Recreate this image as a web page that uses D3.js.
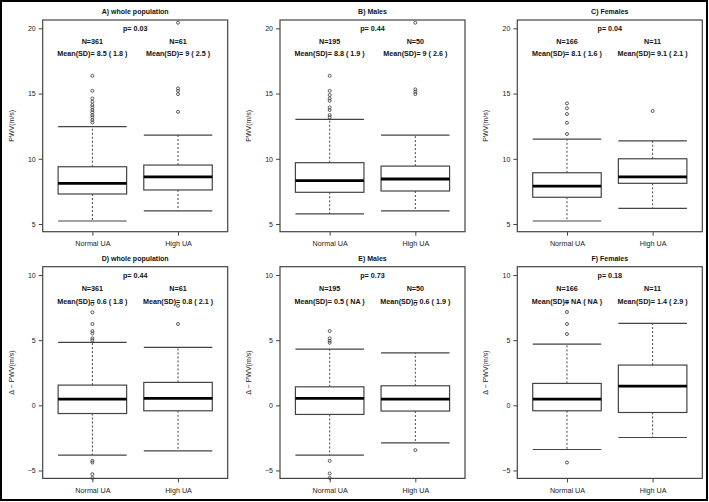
<!DOCTYPE html>
<html><head><meta charset="utf-8">
<script src="https://cdn.jsdelivr.net/npm/d3@7"></script>
<style>body{margin:0;background:#fff;} svg{display:block;font-family:"Liberation Sans",Arial,sans-serif;}</style>
</head><body>
<svg id="chart" width="709" height="502"></svg>
<script>
const panelTitles = ["A) whole population","B) Males","C) Females","D) whole population","E) Males","F) Females"];
const groups = ["Normal UA","High UA"];
const yLabels = ["PWV(m/s)","Δ − PWV(m/s)"];
const yTicks = [[5,10,15,20],[-5,0,5,10]];
const pValues = ["0.03","0.44","0.04","0.44","0.73","0.18"];
const nCounts = [[361,61],[195,50],[166,11],[361,61],[195,50],[166,11]];
const meanSD = [["8.5 ( 1.8 )","9 ( 2.5 )"],["8.8 ( 1.9 )","9 ( 2.6 )"],["8.1 ( 1.6 )","9.1 ( 2.1 )"],
                ["0.6 ( 1.8 )","0.8 ( 2.1 )"],["0.5 ( NA )","0.6 ( 1.9 )"],["NA ( NA )","1.4 ( 2.9 )"]];
const whiskerLow = [[5.23,6.0],[5.77,6.0],[5.23,6.2],[-3.82,-3.49],[-3.82,-2.88],[-3.39,-2.47]];
const q1 = [[7.30,7.61],[7.43,7.53],[7.05,8.12],[-0.63,-0.42],[-0.70,-0.44],[-0.42,-0.55]];
const median = [[8.12,8.62],[8.32,8.45],[7.91,8.62],[0.48,0.53],[0.53,0.48],[0.48,1.47]];
const q3 = [[9.39,9.52],[9.70,9.44],[8.93,10.0],[1.55,1.76],[1.42,1.50],[1.68,3.09]];
const whiskerHigh = [[12.46,11.82],[13.02,11.82],[11.51,11.38],[4.83,4.45],[4.32,4.03],[4.70,6.29]];
const outliers = [
  [[16.36,15.21,14.63,14.37,14.12,13.94,13.74,13.56,13.35,13.18,12.97,12.79],[20.43,15.40,15.21,14.96,13.60]],
  [[16.36,15.21,14.89,14.63,14.45,13.94,13.74,13.35,13.18],[20.43,15.32,15.14,14.96]],
  [[14.25,13.87,13.43,12.76,11.90],[13.66]],
  [[7.77,7.14,6.24,5.70,5.52,5.14,5.00,-4.26,-4.39,-5.28,-5.57],[7.64,6.24]],
  [[5.70,5.14,4.95,4.80,-4.26,-5.23,-5.57],[7.77,-3.44]],
  [[7.90,7.16,6.24,5.47,-4.39],[]]
];
const yDomains = [[4.41,20.64],[-5.61,10.64]];
const textLevels = [[20,19,18.1],[10,9,8]];

const svg = d3.select("#chart");
svg.append("rect").attr("x",1).attr("y",1).attr("width",706).attr("height",499)
  .attr("fill","none").attr("stroke","#000").attr("stroke-width",2);

const colLeft = [42.7,280,517.3], rowTop = [20,266.7], pw = 185, ph = 211.7;
const lineCol = "#444";

panelTitles.forEach((title,pi)=>{
  const row = Math.floor(pi/3), col = pi%3;
  const g = svg.append("g").attr("transform",`translate(${colLeft[col]},${rowTop[row]})`);
  const x = d3.scaleLinear().domain([0.42,2.58]).range([0,pw]);
  const y = d3.scaleLinear().domain(yDomains[row]).range([ph,0]);

  const ya = g.append("g").call(d3.axisLeft(y).tickValues(yTicks[row]).tickSize(4).tickPadding(3).tickFormat(d=>d<0?"−"+Math.abs(d):d));
  ya.select(".domain").remove();
  ya.selectAll("line").attr("stroke",lineCol);
  ya.selectAll("text").attr("font-size",7).attr("fill","#222").attr("font-family","Liberation Sans, Arial, sans-serif");
  const xa = g.append("g").attr("transform",`translate(0,${ph})`)
    .call(d3.axisBottom(x).tickValues([1,2]).tickSize(4).tickPadding(5).tickFormat(d=>groups[d-1]));
  xa.select(".domain").remove();
  xa.selectAll("line").attr("stroke",lineCol);
  xa.selectAll("text").attr("font-size",7.2).attr("fill","#222").attr("font-family","Liberation Sans, Arial, sans-serif");

  g.append("rect").attr("width",pw).attr("height",ph).attr("fill","none").attr("stroke",lineCol).attr("stroke-width",1.2);

  g.append("text").attr("x",pw/2).attr("y",-8).attr("text-anchor","middle").attr("dy","0.35em")
    .attr("font-size",7).attr("font-weight","bold").attr("fill","#111").text(title);
  g.append("text").attr("transform",`translate(-29,${ph/2}) rotate(-90)`).attr("text-anchor","middle")
    .attr("font-size",7).attr("fill","#222").text(yLabels[row]);

  g.append("text").attr("x",x(1.5)).attr("y",y(textLevels[row][0])).attr("dy","0.35em").attr("text-anchor","middle")
    .attr("font-size",7.2).attr("font-weight","bold").attr("fill","#111").text("p= "+pValues[pi]);

  groups.forEach((gr,gi)=>{
    const cx = x(gi+1), xl = x(gi+1-0.4), xr = x(gi+1+0.4);
    g.append("line").attr("x1",cx).attr("x2",cx).attr("y1",y(q3[pi][gi])).attr("y2",y(whiskerHigh[pi][gi]))
      .attr("stroke",lineCol).attr("stroke-dasharray","2,2").attr("stroke-width",1);
    g.append("line").attr("x1",cx).attr("x2",cx).attr("y1",y(q1[pi][gi])).attr("y2",y(whiskerLow[pi][gi]))
      .attr("stroke",lineCol).attr("stroke-dasharray","2,2").attr("stroke-width",1);
    [whiskerHigh[pi][gi],whiskerLow[pi][gi]].forEach(v=>{
      g.append("line").attr("x1",xl).attr("x2",xr).attr("y1",y(v)).attr("y2",y(v)).attr("stroke",lineCol).attr("stroke-width",1.2);
    });
    g.append("rect").attr("x",xl).attr("width",xr-xl).attr("y",y(q3[pi][gi])).attr("height",y(q1[pi][gi])-y(q3[pi][gi]))
      .attr("fill","#fff").attr("stroke",lineCol).attr("stroke-width",1.2);
    g.append("line").attr("x1",xl).attr("x2",xr).attr("y1",y(median[pi][gi])).attr("y2",y(median[pi][gi]))
      .attr("stroke","#000").attr("stroke-width",2.8);
    outliers[pi][gi].forEach(v=>{
      g.append("circle").attr("cx",cx).attr("cy",y(v)).attr("r",1.5).attr("fill","none").attr("stroke","#333").attr("stroke-width",0.8);
    });
    g.append("text").attr("x",cx).attr("y",y(textLevels[row][1])).attr("dy","0.35em").attr("text-anchor","middle")
      .attr("font-size",7.2).attr("font-weight","bold").attr("fill","#111").text("N="+nCounts[pi][gi]);
    g.append("text").attr("x",cx).attr("y",y(textLevels[row][2])).attr("dy","0.35em").attr("text-anchor","middle")
      .attr("font-size",7.2).attr("font-weight","bold").attr("fill","#111").text("Mean(SD)= "+meanSD[pi][gi]);
  });
});
</script>
</body></html>
